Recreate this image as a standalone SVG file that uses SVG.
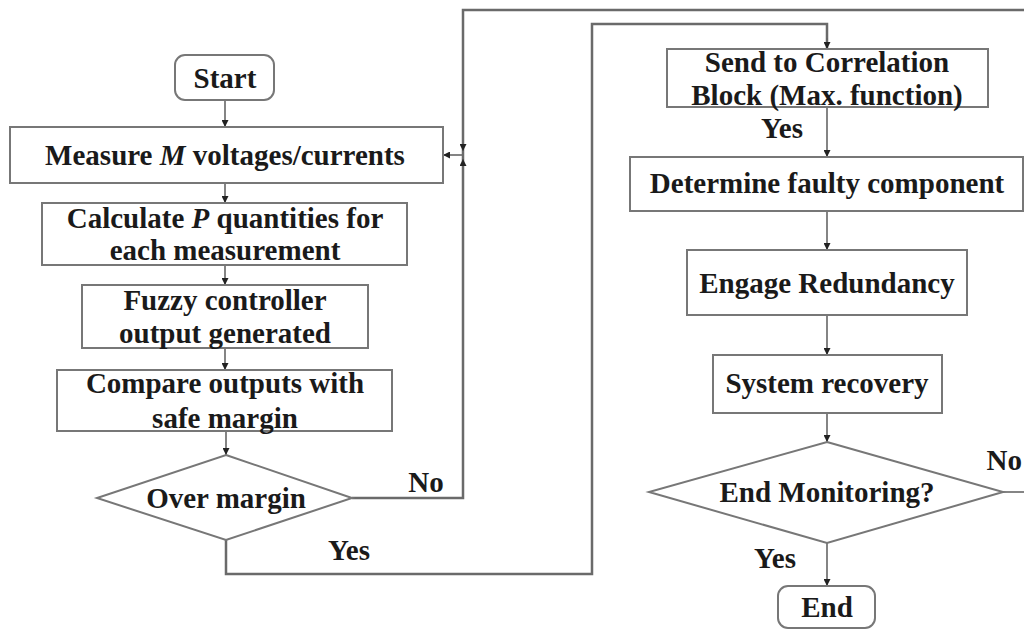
<svg xmlns="http://www.w3.org/2000/svg" width="1024" height="630" viewBox="0 0 1024 630">
<defs>
<style>
.box{fill:#fff;stroke:#777;stroke-width:2}
.ln{fill:none;stroke:#666;stroke-width:1.6}
.lp{fill:none;stroke:#6a6a6a;stroke-width:2.5}
.t{font-family:"Liberation Serif","Times New Roman",serif;font-weight:bold;font-size:29px;fill:#1a1a1a;text-anchor:middle}
</style>
<marker id="ah" viewBox="0 0 10 10" refX="10" refY="5" markerWidth="8" markerHeight="7" orient="auto" markerUnits="userSpaceOnUse">
<path d="M0,0 L10,5 L0,10 z" fill="#222"/>
</marker>
</defs>
<rect width="1024" height="630" fill="#fff"/>
<g id="connectors">
<line class="ln" x1="225" y1="100" x2="225" y2="127" marker-end="url(#ah)"/>
<line class="ln" x1="225" y1="183" x2="225" y2="203" marker-end="url(#ah)"/>
<line class="ln" x1="225" y1="265" x2="225" y2="285" marker-end="url(#ah)"/>
<line class="ln" x1="225" y1="348" x2="225" y2="370" marker-end="url(#ah)"/>
<line class="ln" x1="226" y1="431" x2="226" y2="455" marker-end="url(#ah)"/>
<polyline class="lp" points="352,498 463,498 463,10 1024,10"/>
<line class="ln" x1="1003" y1="492" x2="1024" y2="492"/>
<line class="ln" x1="463" y1="140" x2="463" y2="151" marker-end="url(#ah)"/>
<line class="ln" x1="463" y1="170" x2="463" y2="159" marker-end="url(#ah)"/>
<line class="ln" x1="462" y1="155" x2="443" y2="155" marker-end="url(#ah)"/>
<polyline class="lp" points="226,540 226,574 592,574 592,24 827,24 827,49"/>
<line class="ln" x1="827" y1="38" x2="827" y2="49" marker-end="url(#ah)"/>
<line class="ln" x1="827" y1="107" x2="827" y2="157" marker-end="url(#ah)"/>
<line class="ln" x1="827" y1="211" x2="827" y2="250" marker-end="url(#ah)"/>
<line class="ln" x1="827" y1="315" x2="827" y2="355" marker-end="url(#ah)"/>
<line class="ln" x1="827" y1="413" x2="827" y2="442" marker-end="url(#ah)"/>
<line class="ln" x1="827" y1="543" x2="827" y2="586" marker-end="url(#ah)"/>
<text class="t" x="426" y="492">No</text>
<text class="t" x="349" y="560">Yes</text>
<text class="t" x="782" y="138">Yes</text>
<text class="t" x="1022" y="470" style="text-anchor:end">No</text>
<text class="t" x="775" y="568">Yes</text>
</g>
<g id="start">
<rect class="box" x="175" y="55" width="99" height="45" rx="10"/>
<text class="t" x="225" y="88">Start</text>
</g>
<g id="measure">
<rect class="box" x="10" y="127" width="433" height="56"/>
<text class="t" x="225" y="165">Measure <tspan font-style="italic">M</tspan> voltages/currents</text>
</g>
<g id="calculate">
<rect class="box" x="42" y="203" width="365" height="62"/>
<text class="t" x="225" y="228">Calculate <tspan font-style="italic">P</tspan> quantities for</text>
<text class="t" x="225" y="260">each measurement</text>
</g>
<g id="fuzzy">
<rect class="box" x="82" y="285" width="286" height="63"/>
<text class="t" x="225" y="310">Fuzzy controller</text>
<text class="t" x="225" y="343">output generated</text>
</g>
<g id="compare">
<rect class="box" x="57" y="370" width="335" height="61"/>
<text class="t" x="225" y="393">Compare outputs with</text>
<text class="t" x="225" y="428">safe margin</text>
</g>
<g id="over-margin">
<polygon class="box" points="226,455 352,498 226,540 97,498"/>
<text class="t" x="226" y="508">Over margin</text>
</g>
<g id="send">
<rect class="box" x="667" y="49" width="321" height="58"/>
<text class="t" x="827" y="72">Send to Correlation</text>
<text class="t" x="827" y="105">Block (Max. function)</text>
</g>
<g id="determine">
<rect class="box" x="630" y="157" width="393" height="54"/>
<text class="t" x="827" y="193">Determine faulty component</text>
</g>
<g id="engage">
<rect class="box" x="687" y="250" width="280" height="65"/>
<text class="t" x="827" y="293">Engage Redundancy</text>
</g>
<g id="recovery">
<rect class="box" x="713" y="355" width="229" height="58"/>
<text class="t" x="827" y="393">System recovery</text>
</g>
<g id="end-monitoring">
<polygon class="box" points="827,442 1003,492 827,543 649,492"/>
<text class="t" x="827" y="502">End Monitoring?</text>
</g>
<g id="end">
<rect class="box" x="778" y="586" width="97" height="42" rx="10"/>
<text class="t" x="827" y="617">End</text>
</g>
</svg>
